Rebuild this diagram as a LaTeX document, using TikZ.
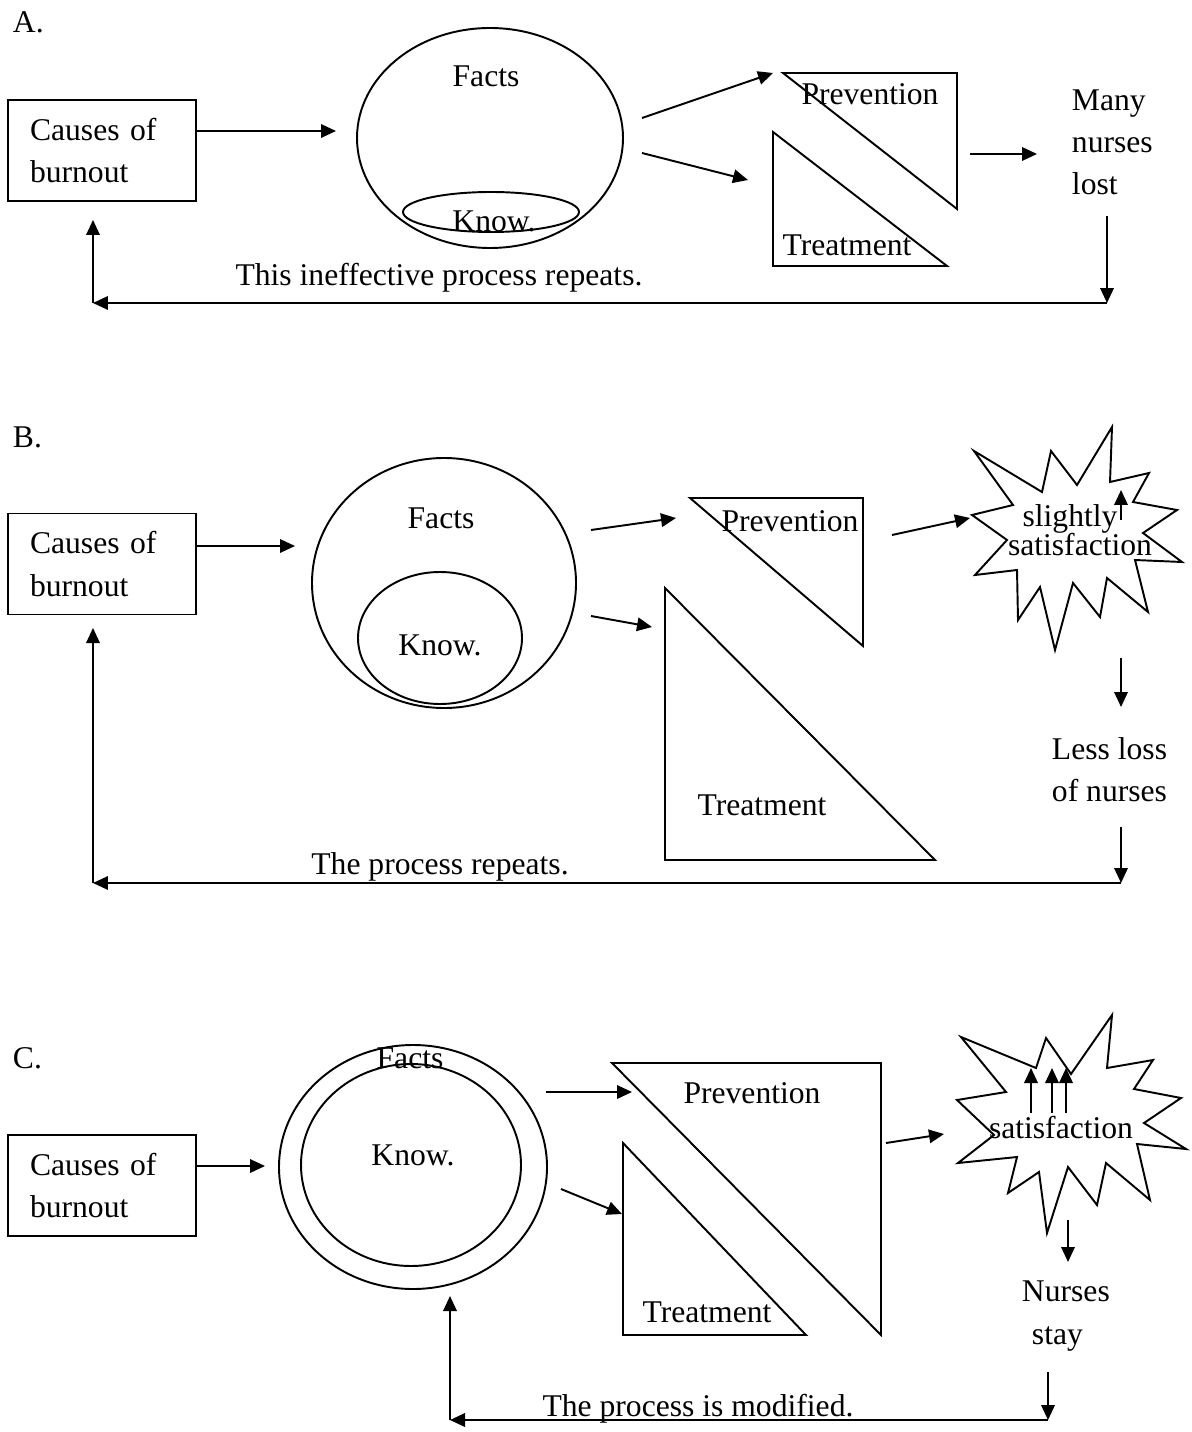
\documentclass[tikz,border=0pt]{standalone}
\usepackage{fontspec}
\setmainfont{Liberation Serif}
\usetikzlibrary{arrows.meta}

\begin{document}
\begin{tikzpicture}[x=0.02cm, y=-0.02cm, line width=1.1pt,
    txt/.style={inner sep=0pt, font=\fontsize{18}{24}\selectfont},
    causebox/.style={draw, txt, align=left, text width=2.88cm, inner xsep=0.44cm,
      minimum height=2.02cm, minimum width=3.76cm},
    arr/.style={-{Triangle[length=0.3cm,width=0.27cm]}}]
    \useasboundingbox (0,0) rectangle (1192,1432);

    % A.
    \node[txt, anchor=west] (labA) at (12,22) {A.};
    \node[causebox] (causeA) at (102,150.5) {Causes of\\burnout};
    \draw (490,138) ellipse [x radius=133, y radius=110];
    \draw (491,212) ellipse [x radius=88, y radius=20];
    \node[txt] (factsA) at (486,76) {Facts};
    \node[txt] (knowA) at (494,221) {Know.};
    \draw (783,73) -- (957,73) -- (957,209) -- cycle;
    \draw (773,132) -- (773,266) -- (947,266) -- cycle;
    \node[txt] (prevA) at (870,94) {Prevention};
    \node[txt] (treatA) at (847,245) {Treatment};
    \node[txt, align=left, anchor=west] (lostA) at (1071,142) {Many\\nurses\\lost};
    \node[txt] (repA) at (439,278) {This ineffective process repeats.};

    \coordinate (ellA-in) at (336,131);
    \coordinate (ellA-o1) at (642,118);
    \coordinate (ellA-o2) at (642,153);
    \coordinate (prevA-in) at (773,73);
    \coordinate (treatA-in) at (748,180);
    \coordinate (prevA-out) at (970,154);
    \coordinate (lostA-in) at (1037,154);
    \coordinate (lostA-out) at (1107,216);
    \coordinate (loopA-r) at (1107,303);
    \coordinate (loopA-l) at (93,303);
    \coordinate (causeA-in) at (93,220);

    \draw[arr] (causeA.east |- ellA-in) -- (ellA-in);
    \draw[arr] (ellA-o1) -- (prevA-in);
    \draw[arr] (ellA-o2) -- (treatA-in);
    \draw[arr] (prevA-out) -- (lostA-in);
    \draw[arr] (lostA-out) -- (loopA-r);
    \draw[arr] (loopA-r) -- (loopA-l);
    \draw[arr] (loopA-l) -- (causeA-in);

    % B.
    \node[txt, anchor=west] (labB) at (12,437) {B.};
    \node[causebox] (causeB) at (102,564) {Causes of\\burnout};
    \draw (444,583) ellipse [x radius=132, y radius=125];
    \draw (440,638) ellipse [x radius=82, y radius=66];
    \node[txt] (factsB) at (441,518) {Facts};
    \node[txt] (knowB) at (440,645) {Know.};
    \draw (690,498) -- (863,498) -- (863,646) -- cycle;
    \draw (665,588) -- (665,860) -- (935,860) -- cycle;
    \node[txt] (prevB) at (790,521) {Prevention};
    \node[txt] (treatB) at (762,805) {Treatment};
    \draw (972,515) -- (1013,505) -- (974,451) -- (1042,492) -- (1051,451)
      -- (1077,485) -- (1112,427) -- (1110,482) -- (1149,473) -- (1133,502)
      -- (1177,510) -- (1143,533) -- (1182,562) -- (1135,560) -- (1148,612)
      -- (1107,578) -- (1100,617) -- (1073,583) -- (1055,650) -- (1040,587)
      -- (1018,620) -- (1017,570) -- (975,575) -- (1007,540) -- cycle;
    \node[txt] (slightB) at (1070,519) {slightly};
    \node[txt] (satB) at (1080,545) {satisfaction};
    \node[txt, align=left, anchor=west] (lossB) at (1051,770) {Less loss\\of nurses};
    \node[txt] (repB) at (440,867) {The process repeats.};

    \coordinate (ellB-in) at (295,546);
    \coordinate (ellB-o1) at (591,530);
    \coordinate (ellB-o2) at (591,616);
    \coordinate (prevB-in) at (676,518);
    \coordinate (treatB-in) at (652,627);
    \coordinate (prevB-out) at (892,535);
    \coordinate (satB-in) at (970,518);
    \coordinate (upB-s) at (1121,520);
    \coordinate (upB-e) at (1121,490);
    \coordinate (satB-out) at (1121,658);
    \coordinate (lossB-in) at (1121,707);
    \coordinate (lossB-out) at (1121,827);
    \coordinate (loopB-r) at (1121,883);
    \coordinate (loopB-l) at (93,883);
    \coordinate (causeB-in) at (93,628);

    \draw[arr] (causeB.east |- ellB-in) -- (ellB-in);
    \draw[arr] (ellB-o1) -- (prevB-in);
    \draw[arr] (ellB-o2) -- (treatB-in);
    \draw[arr] (prevB-out) -- (satB-in);
    \draw[arr] (upB-s) -- (upB-e);
    \draw[arr] (satB-out) -- (lossB-in);
    \draw[arr] (lossB-out) -- (loopB-r);
    \draw[arr] (loopB-r) -- (loopB-l);
    \draw[arr] (loopB-l) -- (causeB-in);

    % C.
    \node[txt, anchor=west] (labC) at (12,1058) {C.};
    \node[causebox] (causeC) at (102,1185.5) {Causes of\\burnout};
    \draw (413,1167) ellipse [x radius=134, y radius=122];
    \draw (411,1165) ellipse [x radius=110, y radius=101];
    \node[txt] (factsC) at (410,1058) {Facts};
    \node[txt] (knowC) at (413,1155) {Know.};
    \draw (612,1063) -- (881,1063) -- (881,1335) -- cycle;
    \draw (623,1143) -- (623,1335) -- (806,1335) -- cycle;
    \node[txt] (prevC) at (752,1093) {Prevention};
    \node[txt] (treatC) at (707,1312) {Treatment};
    \draw (961,1037) -- (1036,1068) -- (1046,1038) -- (1071,1074) -- (1112,1015)
      -- (1107,1068) -- (1153,1060) -- (1134,1089) -- (1181,1098) -- (1144,1123)
      -- (1186,1149) -- (1137,1144) -- (1150,1200) -- (1106,1163) -- (1097,1205)
      -- (1068,1167) -- (1047,1233) -- (1039,1172) -- (1008,1193) -- (1017,1157)
      -- (958,1163) -- (994,1135) -- (957,1100) -- (1006,1092) -- cycle;
    \node[txt] (satC) at (1061,1128) {satisfaction};
    \node[txt, align=left, anchor=west] (stayC) at (1021,1316) {Nurses\\\hspace*{0.2cm}stay};
    \node[txt] (modC) at (698,1409) {The process is modified.};

    \coordinate (ellC-in) at (265,1166);
    \coordinate (ellC-o1) at (546,1092);
    \coordinate (ellC-o2) at (561,1189);
    \coordinate (prevC-in) at (632,1092);
    \coordinate (treatC-in) at (622,1214);
    \coordinate (prevC-out) at (886,1143);
    \coordinate (satC-in) at (944,1134);
    \coordinate (satC-out) at (1068,1220);
    \coordinate (stayC-in) at (1068,1262);
    \coordinate (stayC-out) at (1048,1372);
    \coordinate (loopC-r) at (1048,1420);
    \coordinate (loopC-l) at (450,1420);
    \coordinate (ellC-bot) at (450,1296);

    \draw[arr] (causeC.east |- ellC-in) -- (ellC-in);
    \draw[arr] (ellC-o1) -- (prevC-in);
    \draw[arr] (ellC-o2) -- (treatC-in);
    \draw[arr] (prevC-out) -- (satC-in);
    \foreach \ux in {1031,1052,1066}
      \draw[arr] (\ux,1113) -- (\ux,1068);
    \draw[arr] (satC-out) -- (stayC-in);
    \draw[arr] (stayC-out) -- (loopC-r);
    \draw[arr] (loopC-r) -- (loopC-l);
    \draw[arr] (loopC-l) -- (ellC-bot);
  \end{tikzpicture}
\end{document}
